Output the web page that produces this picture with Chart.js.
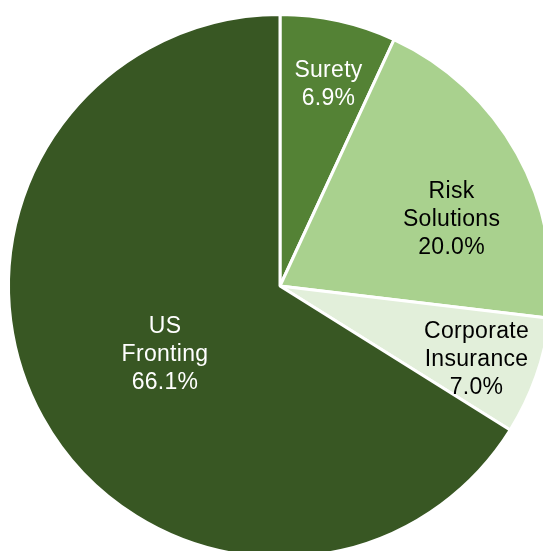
<!DOCTYPE html>
<html>
<head>
<meta charset="utf-8">
<script src="https://cdn.jsdelivr.net/npm/chart.js@4"></script>
<style>
  html, body { margin: 0; padding: 0; background: #fff; overflow: hidden; }
  #wrap { width: 560px; height: 572px; }
</style>
</head>
<body>
<div id="wrap"><canvas id="pie" width="560" height="572"></canvas></div>
<script>
// =====================
// Data
// =====================
const segments = ["Surety", "Risk Solutions", "Corporate Insurance", "US Fronting"]
const shares = [6.9, 20.0, 7.0, 66.1]
const labelLines = [["Surety"], ["Risk", "Solutions"], ["Corporate", "Insurance"], ["US", "Fronting"]]

const colors = ["#548235", "#A9D18E", "#E2EFDA", "#385723"]
const textColors = ["#ffffff", "#000000", "#000000", "#ffffff"]

// where each label sits inside its slice (fraction of radius, angle nudge in degrees)
const labelRadius = [0.77, 0.68, 0.77, 0.49]
const labelNudge = [1, 7.5, 0.5, -1.2]


// =====================
// Slice labels
// =====================
const sliceLabels = {
  id: "sliceLabels",
  afterDatasetsDraw(chart) {
    const ctx = chart.ctx
    const arcs = chart.getDatasetMeta(0).data
    ctx.save()
    ctx.font = "23px 'Liberation Sans', Arial, sans-serif"
    ctx.letterSpacing = "0.3px"
    ctx.textAlign = "center"
    ctx.textBaseline = "middle"

    arcs.forEach((arc, i) => {
      const p = arc.getProps(["x", "y", "startAngle", "endAngle", "outerRadius"], true)
      const mid = (p.startAngle + p.endAngle) / 2 + labelNudge[i] * Math.PI / 180
      const r = p.outerRadius * labelRadius[i]
      const cx = p.x + Math.cos(mid) * r
      const cy = p.y + Math.sin(mid) * r + 2

      const lines = [...labelLines[i], shares[i].toFixed(1) + "%"]
      const lh = 28
      const top = cy - (lines.length - 1) * lh / 2

      ctx.fillStyle = textColors[i]
      lines.forEach((t, k) => ctx.fillText(t, cx, top + k * lh))
    })
    ctx.restore()
  }
}


// =====================
// Build chart
// =====================
new Chart(document.getElementById("pie"), {
  type: "pie",
  data: {
    labels: segments,
    datasets: [{
      data: shares,
      backgroundColor: colors,
      borderColor: "#ffffff",
      borderWidth: 3
    }]
  },
  options: {
    responsive: false,
    animation: false,
    layout: { padding: { left: 7, right: 7, top: 13, bottom: 13 } },
    plugins: {
      legend: { display: false },
      tooltip: { enabled: false }
    }
  },
  plugins: [sliceLabels]
})
</script>
</body>
</html>
